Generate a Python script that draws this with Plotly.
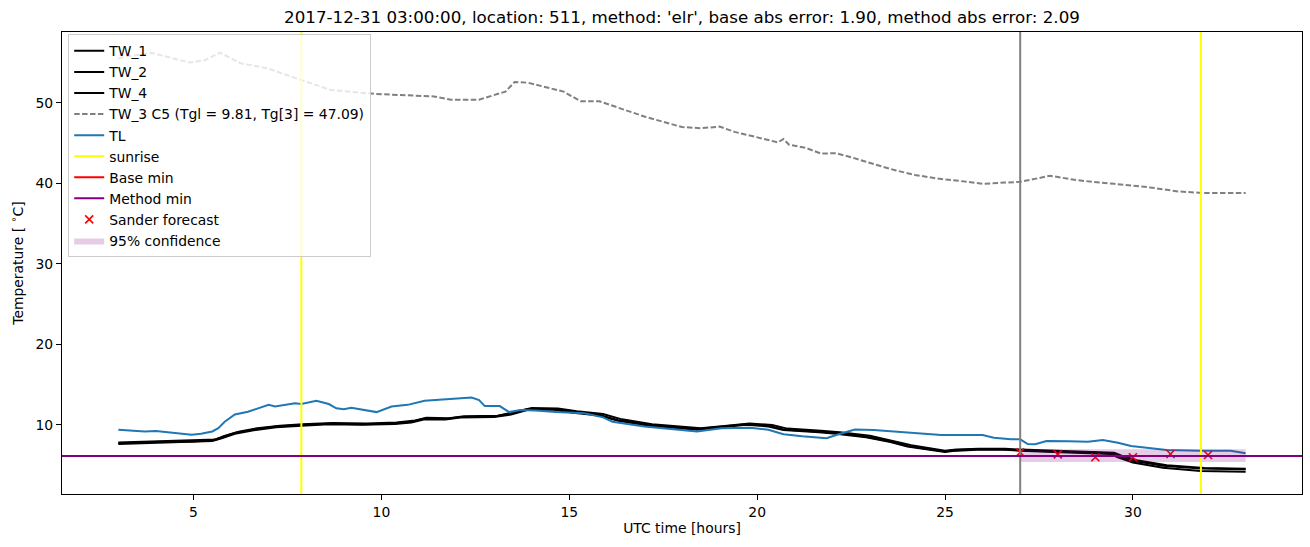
import plotly.graph_objects as go

# ---------------- data ----------------
tw1_x = [3.0, 3.5, 4.2, 5.0, 5.5, 5.75, 6.1, 6.6, 7.2, 7.87, 8.6, 9.5, 10.35, 10.8, 11.15, 11.7, 12.1,
         13.0, 13.45, 13.9, 14.6, 15.1, 15.8, 16.3, 17.1, 18.4, 19.15, 19.7, 20.3, 20.7, 21.65, 22.1,
         22.9, 23.55, 24.0, 25.0, 25.2, 25.85, 26.5, 27.0, 27.9, 28.7, 29.45, 29.6, 30.0, 30.8, 31.8, 33.0]
tw1_y = [7.72, 7.8, 7.93, 7.95, 8.1, 8.45, 9.0, 9.45, 9.8, 10.0, 10.15, 10.1, 10.2, 10.4, 10.8, 10.75, 11.0,
         11.05, 11.4, 12.0, 11.95, 11.6, 11.25, 10.6, 10.0, 9.5, 9.8, 10.1, 9.9, 9.45, 9.17, 9.0,
         8.55, 7.95, 7.4, 6.7, 6.85, 6.98, 7.0, 6.85, 6.7, 6.56, 6.48, 6.1, 5.55, 4.95, 4.6, 4.5]

tw2_x = [3.0, 3.6, 4.3, 5.1, 5.6, 5.8, 6.2, 6.7, 7.3, 7.9, 8.7, 9.6, 10.4, 10.9, 11.2, 11.8, 12.2,
         13.1, 13.5, 14.0, 14.7, 15.2, 15.9, 16.4, 17.2, 18.5, 19.2, 19.8, 20.4, 20.8, 21.7, 22.2,
         23.0, 23.6, 24.1, 25.0, 25.3, 25.9, 26.6, 27.0, 28.0, 28.8, 29.5, 29.7, 30.1, 30.9, 31.9, 33.0]
tw2_y = [7.82, 7.9, 8.02, 8.05, 8.2, 8.6, 9.15, 9.6, 9.9, 10.1, 10.25, 10.2, 10.3, 10.55, 10.9, 10.85, 11.1,
         11.15, 11.55, 12.1, 12.05, 11.7, 11.35, 10.7, 10.1, 9.6, 9.9, 10.2, 10.0, 9.55, 9.27, 9.1,
         8.65, 8.05, 7.5, 6.8, 6.95, 7.05, 7.05, 6.95, 6.78, 6.62, 6.55, 6.2, 5.62, 5.0, 4.65, 4.55]

tw4_x = [3.0, 3.5, 4.2, 5.0, 5.5, 5.75, 6.1, 6.6, 7.2, 7.87, 8.6, 9.5, 10.35, 10.8, 11.15, 11.7, 12.1,
         13.0, 13.45, 13.9, 14.6, 15.1, 15.8, 16.3, 17.1, 18.4, 19.15, 19.7, 20.3, 20.7, 21.65, 22.1,
         22.9, 23.55, 24.0, 25.0, 25.2, 25.85, 26.5, 27.0, 27.9, 28.7, 29.4, 29.6, 30.0, 30.8, 31.8, 33.0]
tw4_y = [7.65, 7.72, 7.85, 7.88, 8.0, 8.35, 8.9, 9.35, 9.72, 9.92, 10.08, 10.02, 10.12, 10.32, 10.72, 10.68, 10.92,
         10.98, 11.3, 11.9, 11.88, 11.52, 11.18, 10.52, 9.92, 9.42, 9.72, 10.02, 9.82, 9.38, 9.1, 8.92,
         8.47, 7.88, 7.33, 6.64, 6.78, 6.92, 6.95, 6.8, 6.64, 6.5, 6.4, 6.0, 5.35, 4.7, 4.3, 4.2]

tw3_x = [3.0, 3.2, 3.9, 4.9, 5.3, 5.7, 6.26, 6.97, 7.7, 8.65, 9.85, 11.4, 11.85, 12.6, 13.3, 13.55, 13.9,
         14.85, 15.3, 15.8, 17.0, 18.0, 18.5, 19.0, 19.4, 19.95, 20.55, 20.7, 20.85, 21.3, 21.7, 22.1,
         22.5, 23.1, 23.7, 24.2, 24.8, 25.4, 26.0, 26.6, 27.0, 27.8, 28.5, 29.5, 30.45, 31.2, 31.9, 33.0]
tw3_y = [55.5, 55.75, 56.2, 55.0, 55.3, 56.25, 54.9, 54.3, 53.1, 51.6, 51.1, 50.8, 50.4, 50.4, 51.4, 52.6, 52.5,
         51.4, 50.2, 50.2, 48.3, 47.0, 46.85, 47.05, 46.4, 45.8, 45.1, 45.5, 44.8, 44.4, 43.7, 43.75,
         43.25, 42.4, 41.6, 41.05, 40.6, 40.3, 39.95, 40.1, 40.2, 40.95, 40.4, 39.95, 39.5, 39.0, 38.8, 38.8]

tl_x = [3.0, 3.4, 3.7, 4.0, 4.33, 4.7, 4.95, 5.2, 5.5, 5.66, 5.83, 6.1, 6.45, 7.0, 7.17, 7.7, 7.87, 8.27,
        8.6, 8.8, 9.0, 9.2, 9.47, 9.87, 10.27, 10.7, 11.15, 11.7, 12.1, 12.4, 12.6, 12.75, 13.15, 13.4,
        13.7, 14.1, 14.65, 15.4, 15.9, 16.15, 17.0, 17.9, 18.4, 19.05, 19.8, 20.3, 20.7, 21.2, 21.85,
        22.1, 22.6, 23.1, 24.0, 24.9, 25.5, 26.0, 26.3, 26.75, 27.0, 27.2, 27.4, 27.7, 28.3, 28.8, 29.2,
        29.6, 29.95, 30.5, 30.9, 31.8, 32.3, 32.6, 33.0]
tl_y = [9.4, 9.25, 9.2, 9.25, 9.1, 9.0, 8.8, 8.9, 9.2, 9.6, 10.4, 11.3, 11.65, 12.5, 12.3, 12.7, 12.6, 13.0,
        12.6, 12.07, 11.95, 12.15, 11.95, 11.6, 12.3, 12.5, 13.0, 13.2, 13.3, 13.4, 13.1, 12.35, 12.35, 11.6,
        11.85, 11.8, 11.6, 11.45, 10.95, 10.4, 9.8, 9.45, 9.2, 9.6, 9.67, 9.4, 8.85, 8.6, 8.35,
        8.76, 9.45, 9.38, 9.05, 8.76, 8.76, 8.76, 8.42, 8.22, 8.22, 7.64, 7.6, 8.0, 7.97, 7.93, 8.14,
        7.8, 7.4, 7.1, 6.9, 6.8, 6.77, 6.8, 6.48]

sunrise_hours = [7.87, 31.81]
forecast_hour = 27.0
base_min = 6.15
method_min = 6.15

sander_x = [27, 28, 29, 30, 31, 32]
sander_y = [6.6, 6.35, 6.0, 6.0, 6.4, 6.27]

conf_x = [27.0, 33.0]
conf_lower = [5.4, 5.4]
conf_upper = [7.0, 7.0]

title_text = ("2017-12-31 03:00:00, location: 511, method: 'elr', "
              "base abs error: 1.90, method abs error: 2.09")

# ---------------- figure ----------------
FONT = "DejaVu Sans"
fig = go.Figure()

lw = 2.0
fig.add_trace(go.Scatter(x=tw1_x, y=tw1_y, mode="lines", name="TW_1",
                         line=dict(color="black", width=lw), legendrank=1))
fig.add_trace(go.Scatter(x=tw2_x, y=tw2_y, mode="lines", name="TW_2",
                         line=dict(color="black", width=lw), legendrank=2))
fig.add_trace(go.Scatter(x=tw4_x, y=tw4_y, mode="lines", name="TW_4",
                         line=dict(color="black", width=lw), legendrank=3))
fig.add_trace(go.Scatter(x=tw3_x, y=tw3_y, mode="lines", name="TW_3 C5 (Tgl = 9.81, Tg[3] = 47.09)",
                         line=dict(color="#808080", width=lw, dash="5.5px,2.4px"), legendrank=4))
fig.add_trace(go.Scatter(x=tl_x, y=tl_y, mode="lines", name="TL",
                         line=dict(color="#1f77b4", width=lw), legendrank=5))

# vertical lines
fig.add_shape(type="line", xref="x", yref="y domain", x0=forecast_hour, x1=forecast_hour, y0=0, y1=1,
              line=dict(color="#808080", width=lw), layer="above")
for i, h in enumerate(sunrise_hours):
    fig.add_shape(type="line", xref="x", yref="y domain", x0=h, x1=h, y0=0, y1=1,
                  line=dict(color="yellow", width=lw), layer="above",
                  showlegend=(i == 0), name="sunrise", legendgroup="sunrise", legendrank=6)

# horizontal lines
fig.add_shape(type="line", xref="x domain", yref="y", x0=0, x1=1, y0=base_min, y1=base_min,
              line=dict(color="red", width=lw), layer="above",
              showlegend=True, name="Base min", legendrank=7)
fig.add_shape(type="line", xref="x domain", yref="y", x0=0, x1=1, y0=method_min, y1=method_min,
              line=dict(color="purple", width=lw), layer="above",
              showlegend=True, name="Method min", legendrank=8)

fig.add_trace(go.Scatter(x=sander_x, y=sander_y, mode="markers", name="Sander forecast",
                         marker=dict(symbol="x-thin", size=8, color="red",
                                     line=dict(width=1.6, color="red")), legendrank=9))

poly_x = conf_x + conf_x[::-1]
poly_y = conf_upper + conf_lower[::-1]
fig.add_trace(go.Scatter(x=poly_x, y=poly_y, mode="lines", fill="toself", name="95% confidence",
                         fillcolor="rgba(128,0,128,0.2)", line=dict(width=0, color="rgba(0,0,0,0)"),
                         legendrank=10))

axis_common = dict(showline=True, linecolor="black", linewidth=1, mirror=True,
                   ticks="outside", ticklen=5, tickwidth=1, tickcolor="black",
                   showgrid=False, zeroline=False, automargin=False,
                   tickfont=dict(family=FONT, size=13.9, color="black"))

fig.update_layout(
    width=1310, height=547,
    margin=dict(l=62, r=8, t=32, b=53),
    paper_bgcolor="white", plot_bgcolor="white",
    font=dict(family=FONT, size=13.9, color="black"),
    title=dict(text=title_text, x=0.5, xref="paper", y=1 - 17 / 547, yref="container",
               xanchor="center", yanchor="middle",
               font=dict(family=FONT, size=16.7, color="black")),
    xaxis=dict(range=[1.5, 34.5], tickvals=[5, 10, 15, 20, 25, 30],
               title=dict(text="UTC time [hours]", font=dict(family=FONT, size=13.9), standoff=4),
               **axis_common),
    yaxis=dict(range=[1.43, 58.8], tickvals=[10, 20, 30, 40, 50],
               title=dict(text="Temperature [ <sup>∘</sup>C]", font=dict(family=FONT, size=13.9), standoff=8),
               **axis_common),
    legend=dict(x=0.005, y=0.995, xanchor="left", yanchor="top",
                bgcolor="rgba(255,255,255,0.8)", bordercolor="#cccccc", borderwidth=1,
                font=dict(family=FONT, size=13.9, color="black"), tracegroupgap=0,
                itemwidth=30),
    showlegend=True,
)

fig.write_html("out.html", config={"displayModeBar": False},
               post_script="document.body.style.margin='0';")
